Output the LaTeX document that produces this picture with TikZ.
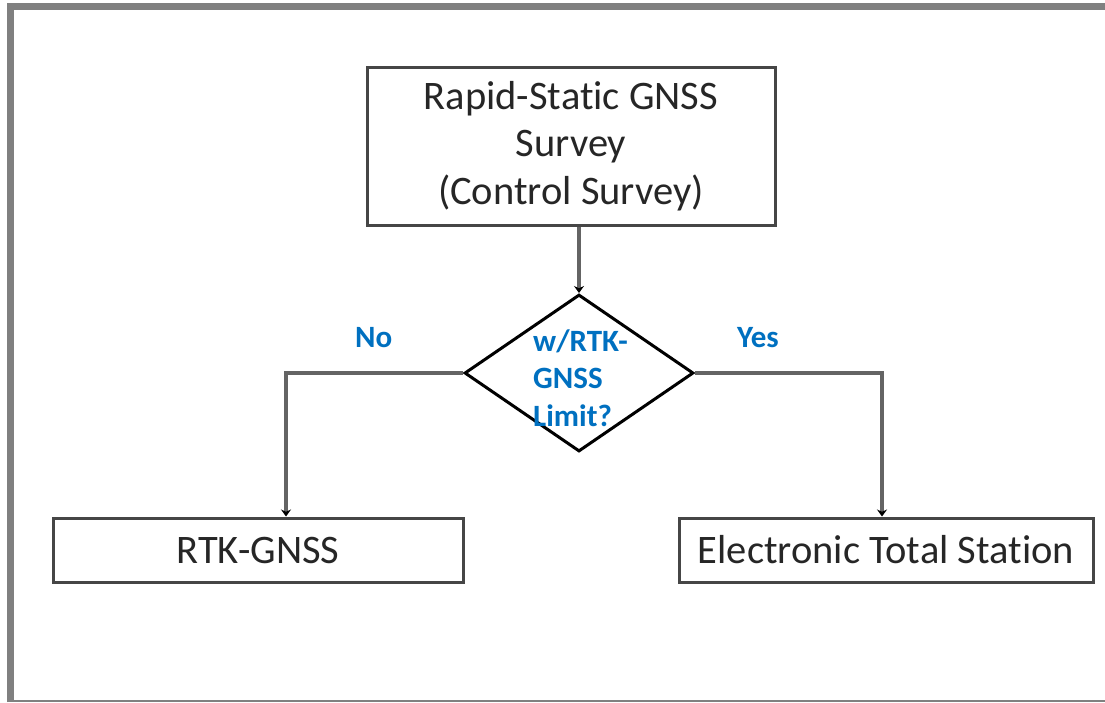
\documentclass[tikz,border=0pt]{standalone}
\usepackage{fontspec}
\setmainfont[Ligatures={NoCommon}]{Carlito}
\usetikzlibrary{shapes.geometric,arrows.meta}
\definecolor{framegray}{RGB}{128,128,128}
\definecolor{edgegray}{RGB}{70,70,70}
\definecolor{conngray}{RGB}{100,100,100}
\definecolor{lblblue}{RGB}{0,112,192}
\begin{document}
\begin{tikzpicture}[x=1pt,y=-1pt,
  box/.style={draw=edgegray, line width=3pt, inner sep=0pt, align=center,
    text=black!85, font=\fontsize{40.5}{47.5}\selectfont},
  decision/.style={diamond, draw=black, line width=3pt, inner sep=0pt},
  qtext/.style={text=lblblue, font=\fontsize{31}{37.5}\selectfont\bfseries, inner sep=0pt},
  conn/.style={draw=conngray, line width=3.5pt, -{Stealth[length=7pt,width=10pt,black]}}]
\useasboundingbox (0,0) rectangle (1105,702);
% frame
\draw[framegray, line width=7pt] (10.5,702) -- (10.5,6.5) -- (1105,6.5);
\draw[framegray, line width=1.5pt] (11,701.2) -- (1105,701.2);
% nodes
\node[box, minimum width=408pt, minimum height=158pt] (survey) at (571,146) {Rapid-Static GNSS\\Survey\\(Control Survey)};
\node[decision, minimum width=229pt, minimum height=157pt] (dec) at (579,373) {};
\node[qtext, align=left, anchor=west] (dectext) at (533,378) {w/RTK-\\GNSS\\Limit?};
\node[box, minimum width=410pt, minimum height=64pt] (rtk) at (258,550) {RTK-GNSS};
\node[box, minimum width=414pt, minimum height=64pt] (ets) at (886,550) {Electronic Total Station};
% labels
\node[qtext, anchor=base west] (no) at (355,347) {No};
\node[qtext, anchor=base west] (yes) at (737,347) {Yes};
% connectors
\draw[conn] (survey.south -| dec.north) -- (dec.north);
\draw[conn] (dec.west) -| ([xshift=28pt]rtk.north);
\draw[conn] (dec.east) -| ([xshift=-4pt]ets.north);
\end{tikzpicture}
\end{document}
